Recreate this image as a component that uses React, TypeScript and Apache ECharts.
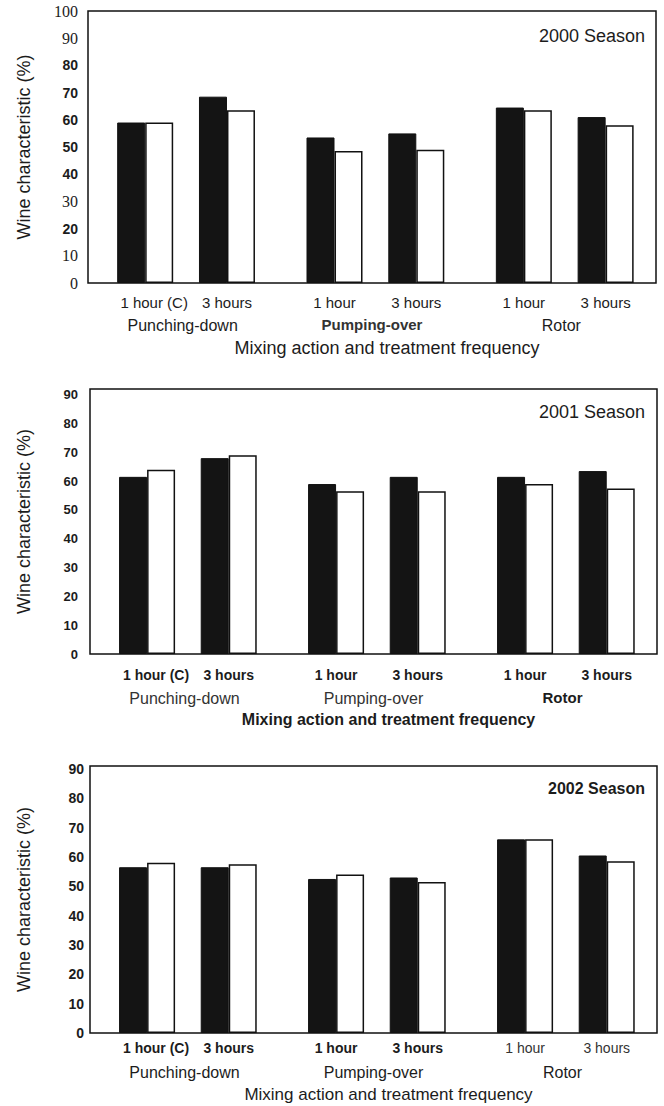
import React, { useEffect, useRef } from 'react';
import * as echarts from 'echarts';

// ---- data ----
const groups = ['Punching-down', 'Pumping-over', 'Rotor'];
const pairLabels = ['1 hour (C)', '3 hours', '1 hour', '3 hours', '1 hour', '3 hours'];
const seasons = ['2000 Season', '2001 Season', '2002 Season'];
const yAxisTitle = 'Wine characteristic (%)';
const xAxisTitle = 'Mixing action and treatment frequency';

const dark2000 = [59, 68.5, 53.5, 55, 64.5, 61];
const light2000 = [59, 63.5, 48.5, 49, 63.5, 58];
const dark2001 = [61.5, 68, 59, 61.5, 61.5, 63.5];
const light2001 = [64, 69, 56.5, 56.5, 59, 57.5];
const dark2002 = [56.5, 56.5, 52.5, 53, 66, 60.5];
const light2002 = [58, 57.5, 54, 51.5, 66, 58.5];

const serif2000Ticks = [100, 90, 30, 10, 0];

// ---- styles ----
const SANS = '"Liberation Sans", Arial, Helvetica, sans-serif';
const SERIF = '"Liberation Serif", "Times New Roman", serif';
const INK = '#1c1c1c';

// x position (0-100 value axis) of each treatment pair, tied to group slots
const pairX = (i: number) => {
  const g = Math.floor(i / 2);
  const h = i % 2;
  return ((g + 0.5) * 100) / 3 + 0.6 + (h ? 7.2 : -7.2);
};
const pairXs = pairLabels.map((_, i) => pairX(i));

// first pair label sits a little right of its bar pair in the original
const withShift = (rich: any) => {
  const out: any = { ...rich };
  Object.keys(rich).forEach((k) => {
    out[k + 'c'] = { ...rich[k], padding: [0, 0, 0, 18] };
  });
  return out;
};

type Panel = {
  season: string;
  dark: number[];
  light: number[];
  grid: { left: number; top: number; width: number; height: number };
  yMax: number;
  yLabelMargin: number;
  yNameGap: number;
  yLabelKey: (v: number) => string;
  yRich: any;
  pairMargin: number;
  pairKey: (i: number) => string;
  pairRich: any;
  groupMargin: number;
  groupKey: (i: number) => string;
  groupRich: any;
  titleGap: number;
  titleStyle: any;
  seasonTop: number;
  seasonStyle: any;
};

const panels: Panel[] = [
  {
    season: seasons[0],
    dark: dark2000,
    light: light2000,
    grid: { left: 88, top: 11, width: 568, height: 272 },
    yMax: 100,
    yLabelMargin: 10,
    yNameGap: 55,
    yLabelKey: (v) => (serif2000Ticks.includes(v) ? 's' : 'b'),
    yRich: {
      s: { fontFamily: SERIF, fontSize: 16, color: INK },
      b: { fontFamily: SANS, fontSize: 14, fontWeight: 'bold', color: INK },
    },
    pairMargin: 12,
    pairKey: () => 'n',
    pairRich: { n: { fontFamily: SANS, fontSize: 15, color: INK } },
    groupMargin: 34,
    groupKey: (i) => (i === 1 ? 'b' : 'n'),
    groupRich: {
      n: { fontFamily: SANS, fontSize: 16, color: INK },
      b: { fontFamily: SANS, fontSize: 15, fontWeight: 'bold', color: '#333' },
    },
    titleGap: 56,
    titleStyle: { fontFamily: SANS, fontSize: 18, fontWeight: 'normal', color: INK },
    seasonTop: 27,
    seasonStyle: { fontFamily: SANS, fontSize: 18, fontWeight: 'normal', color: INK },
  },
  {
    season: seasons[1],
    dark: dark2001,
    light: light2001,
    grid: { left: 90, top: 389, width: 567, height: 265 },
    yMax: 92,
    yLabelMargin: 12,
    yNameGap: 57,
    yLabelKey: () => 'b',
    yRich: { b: { fontFamily: SANS, fontSize: 13, fontWeight: 'bold', color: INK } },
    pairMargin: 14,
    pairKey: () => 'b',
    pairRich: { b: { fontFamily: SANS, fontSize: 14, fontWeight: 'bold', color: INK } },
    groupMargin: 36,
    groupKey: (i) => (i === 2 ? 'b' : 'n'),
    groupRich: {
      n: { fontFamily: SANS, fontSize: 16, color: '#333' },
      b: { fontFamily: SANS, fontSize: 15, fontWeight: 'bold', color: INK },
    },
    titleGap: 57,
    titleStyle: { fontFamily: SANS, fontSize: 16, fontWeight: 'bold', color: INK },
    seasonTop: 403,
    seasonStyle: { fontFamily: SANS, fontSize: 18, fontWeight: 'normal', color: INK },
  },
  {
    season: seasons[2],
    dark: dark2002,
    light: light2002,
    grid: { left: 90, top: 766, width: 567, height: 267 },
    yMax: 91,
    yLabelMargin: 6,
    yNameGap: 57,
    yLabelKey: () => 'b',
    yRich: { b: { fontFamily: SANS, fontSize: 14, fontWeight: 'bold', color: INK } },
    pairMargin: 8,
    pairKey: (i) => (i < 4 ? 'b' : 'n'),
    pairRich: {
      b: { fontFamily: SANS, fontSize: 14, fontWeight: 'bold', color: INK },
      n: { fontFamily: SANS, fontSize: 14, color: '#333' },
    },
    groupMargin: 31,
    groupKey: () => 'n',
    groupRich: { n: { fontFamily: SANS, fontSize: 16, color: INK } },
    titleGap: 53,
    titleStyle: { fontFamily: SANS, fontSize: 17, fontWeight: 'normal', color: INK },
    seasonTop: 780,
    seasonStyle: { fontFamily: SANS, fontSize: 16, fontWeight: 'bold', color: INK },
  },
];

function buildOption() {
  const grid: any[] = [];
  const xAxis: any[] = [];
  const yAxis: any[] = [];
  const series: any[] = [];
  const title: any[] = [];

  panels.forEach((p, k) => {
    grid.push({
      ...p.grid,
      show: true,
      borderColor: '#111',
      borderWidth: 1.5,
      backgroundColor: 'transparent',
      containLabel: false,
    });
    // value axis that carries the bars and the pair labels
    xAxis.push({
      type: 'value',
      gridIndex: k,
      position: 'bottom',
      min: 0,
      max: 100,
      axisLine: { show: false, onZero: false },
      axisTick: { show: false },
      splitLine: { show: false },
      axisLabel: {
        customValues: pairXs,
        margin: p.pairMargin,
        formatter: (v: number) => {
          const i = pairXs.findIndex((x) => Math.abs(x - v) < 1e-6);
          if (i < 0) return '';
          const key = p.pairKey(i) + (i === 0 ? 'c' : '');
          return `{${key}|${pairLabels[i]}}`;
        },
        rich: withShift(p.pairRich),
      },
    });
    // category axis for mixing-action groups + axis title
    xAxis.push({
      type: 'category',
      gridIndex: k,
      position: 'bottom',
      data: groups,
      axisLine: { show: false, onZero: false },
      axisTick: { show: false },
      splitLine: { show: false },
      axisLabel: {
        margin: p.groupMargin,
        interval: 0,
        formatter: (v: string, i: number) => `{${p.groupKey(i)}|${v}}`,
        rich: p.groupRich,
      },
      name: xAxisTitle,
      nameLocation: 'middle',
      nameGap: p.titleGap,
      nameTextStyle: { ...p.titleStyle, padding: [0, 0, 0, 30] },
    });
    yAxis.push({
      type: 'value',
      gridIndex: k,
      min: 0,
      max: p.yMax,
      interval: 10,
      axisLine: { show: false },
      axisTick: { show: false },
      splitLine: { show: false },
      axisLabel: {
        margin: p.yLabelMargin,
        formatter: (v: number) => (v % 10 === 0 ? `{${p.yLabelKey(v)}|${v}}` : ''),
        rich: p.yRich,
      },
      name: yAxisTitle,
      nameLocation: 'middle',
      nameRotate: 90,
      nameGap: p.yNameGap,
      nameTextStyle: { fontFamily: SANS, fontSize: 18, color: INK },
    });
    series.push({
      name: `${p.season} – dark bars`,
      type: 'bar',
      xAxisIndex: 2 * k,
      yAxisIndex: k,
      barWidth: 28,
      barGap: '0%',
      data: p.dark.map((v, i) => [pairX(i), v]),
      itemStyle: { color: '#141414', borderColor: '#111', borderWidth: 1 },
      emphasis: { disabled: true },
    });
    series.push({
      name: `${p.season} – light bars`,
      type: 'bar',
      xAxisIndex: 2 * k,
      yAxisIndex: k,
      barWidth: 28,
      barGap: '0%',
      data: p.light.map((v, i) => [pairX(i), v]),
      itemStyle: { color: '#ffffff', borderColor: '#111', borderWidth: 1.5 },
      emphasis: { disabled: true },
    });
    title.push({
      text: p.season,
      right: 19,
      top: p.seasonTop,
      padding: 0,
      textStyle: p.seasonStyle,
    });
  });

  return {
    animation: false,
    backgroundColor: '#ffffff',
    title,
    grid,
    xAxis,
    yAxis,
    series,
  };
}

export default function App() {
  const ref = useRef<HTMLDivElement>(null);
  useEffect(() => {
    if (!ref.current) return;
    const chart = echarts.init(ref.current, undefined, { renderer: 'svg' });
    chart.setOption(buildOption() as any);
    return () => chart.dispose();
  }, []);
  return (
    <div
      ref={ref}
      style={{ position: 'absolute', left: 0, top: 0, width: 664, height: 1106, background: '#fff' }}
    />
  );
}
